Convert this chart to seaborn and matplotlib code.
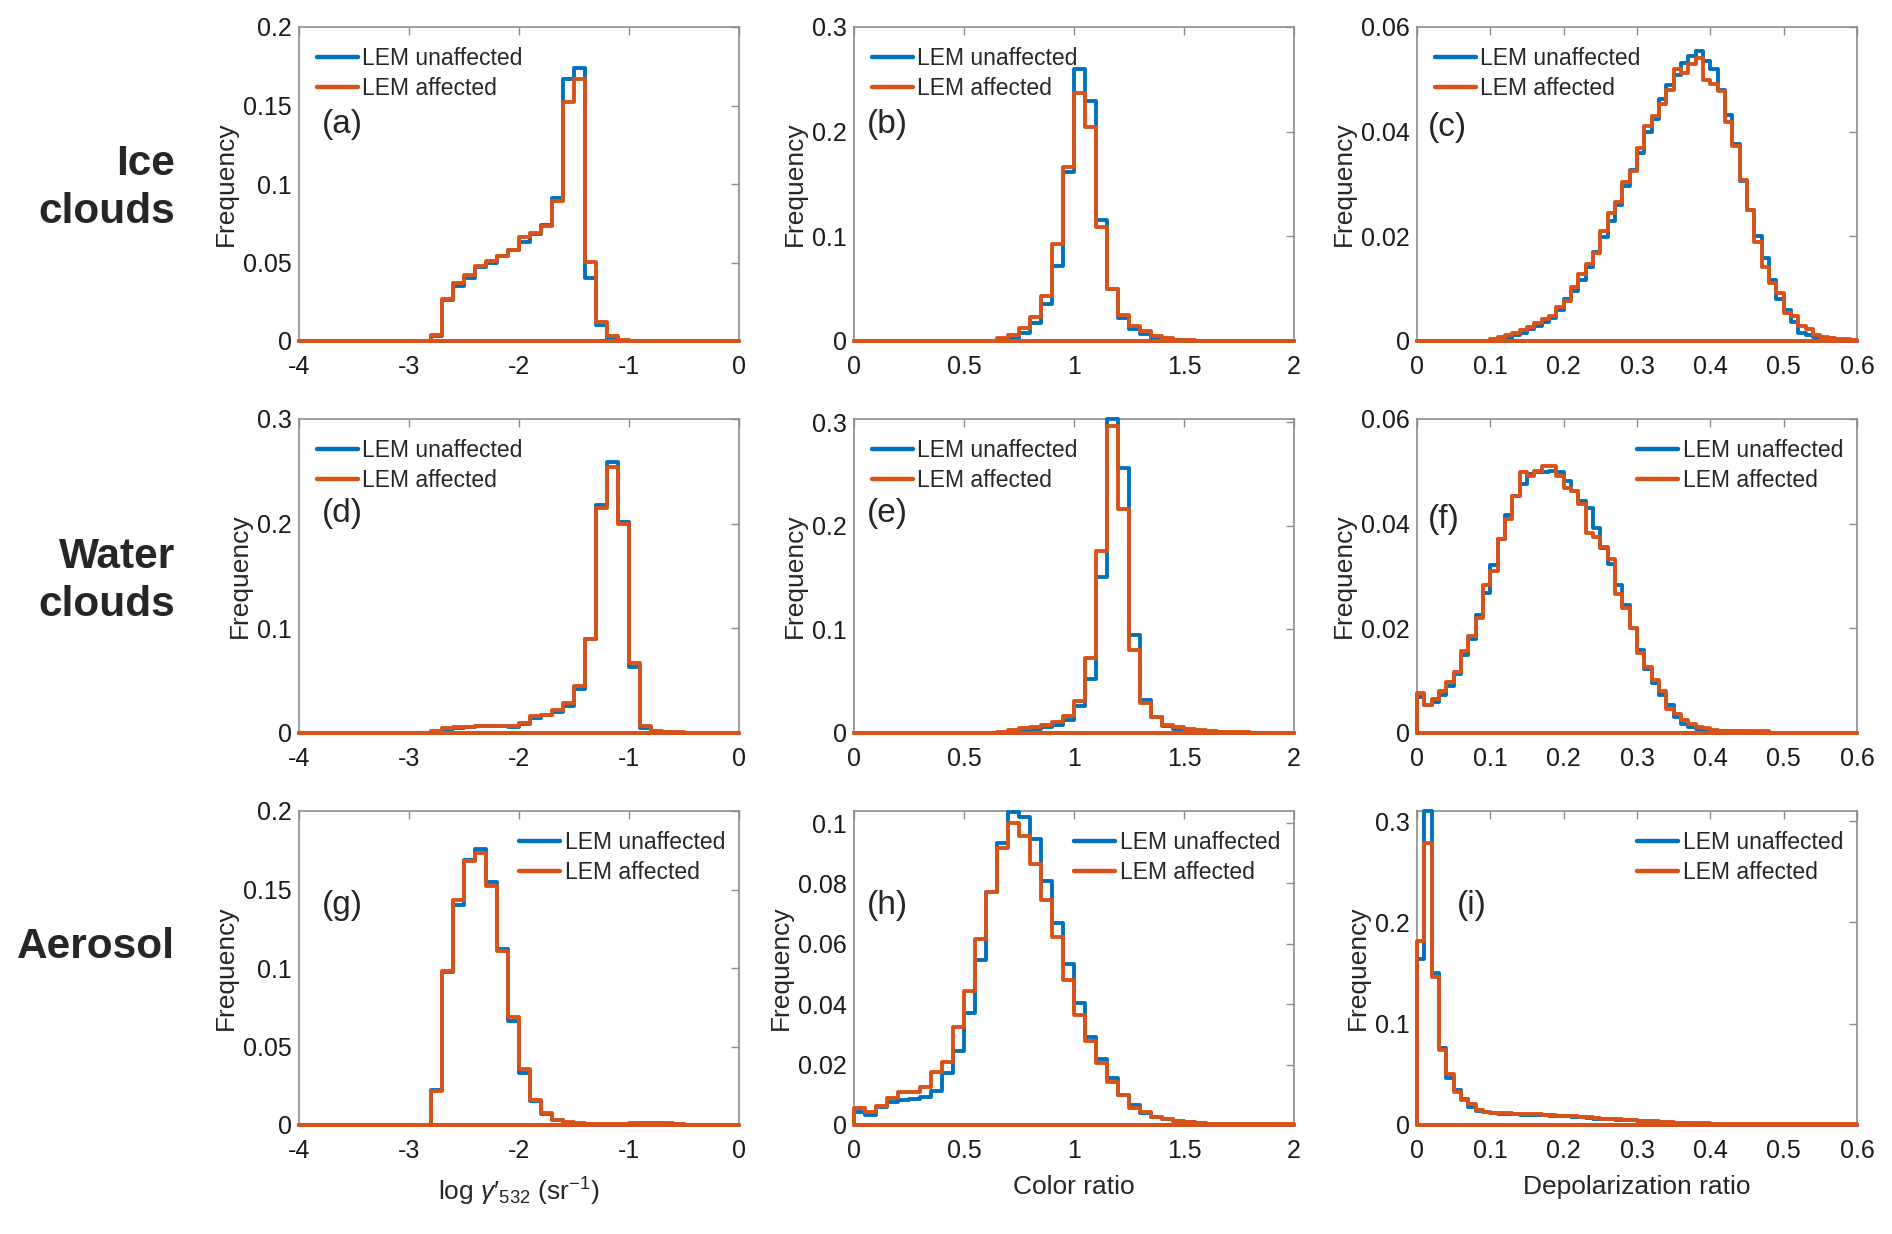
import numpy as np
import matplotlib
matplotlib.use("Agg")
import matplotlib.pyplot as plt
from matplotlib.lines import Line2D
from matplotlib.ticker import FuncFormatter
import seaborn as sns

# ---------------------------------------------------------------
# data: frequency per bin
# each series starts at <panel>_start and uses bins of <panel>_width
# bins outside the listed range are empty
# ---------------------------------------------------------------
series_names = ["LEM unaffected", "LEM affected"]
row_names = ["Ice\nclouds", "Water\nclouds", "Aerosol"]
panel_tags = ["(a)", "(b)", "(c)", "(d)", "(e)", "(f)", "(g)", "(h)", "(i)"]

# (a) ice clouds, log gamma'532
a_start, a_width = -2.8, 0.1
a_unaffected = [0.003, 0.026, 0.035, 0.040, 0.047, 0.050, 0.054, 0.058, 0.063, 0.068,
                0.074, 0.091, 0.167, 0.174, 0.040, 0.010, 0.001, 0.0003, 0.0002, 0.0001]
a_affected = [0.004, 0.027, 0.037, 0.042, 0.048, 0.051, 0.054, 0.058, 0.066, 0.069,
              0.073, 0.089, 0.152, 0.167, 0.050, 0.012, 0.003, 0.0005, 0.0002, 0.0001]

# (b) ice clouds, color ratio
b_start, b_width = 0.65, 0.05
b_unaffected = [0.0006, 0.0016, 0.0074, 0.0176, 0.035, 0.072, 0.1615, 0.260, 0.229, 0.116,
                0.050, 0.022, 0.011, 0.007, 0.0026, 0.0016, 0.0006, 0.0003, 0.0002, 0.0001]
b_affected = [0.0026, 0.0058, 0.012, 0.023, 0.043, 0.093, 0.166, 0.237, 0.204, 0.109,
              0.050, 0.025, 0.0144, 0.0096, 0.0048, 0.003, 0.001, 0.0005, 0.0002, 0.0002]

# (c) ice clouds, depolarization ratio
c_start, c_width = 0.10, 0.01
c_unaffected = [0.0, 0.0001, 0.0006, 0.0011, 0.0016, 0.0022, 0.0028, 0.0037, 0.0044, 0.0060,
                0.0081, 0.0096, 0.0117, 0.0141, 0.0170, 0.0199, 0.0229, 0.0260, 0.0296, 0.0327,
                0.0360, 0.0400, 0.0424, 0.0462, 0.0490, 0.0508, 0.0531, 0.0545, 0.0555, 0.0535,
                0.0520, 0.0479, 0.0431, 0.0376, 0.0306, 0.0251, 0.0200, 0.0158, 0.0117, 0.0081,
                0.0059, 0.0037, 0.0016, 0.0012, 0.0008, 0.0003, 0.0001, 0.0, 0.0, 0.0]
c_affected = [0.0003, 0.0008, 0.0012, 0.0016, 0.0021, 0.0027, 0.0035, 0.0042, 0.0048, 0.0065,
              0.0076, 0.0104, 0.0128, 0.0147, 0.0168, 0.0210, 0.0244, 0.0266, 0.0304, 0.0325,
              0.0368, 0.0410, 0.0430, 0.0453, 0.0479, 0.0519, 0.0513, 0.0530, 0.0540, 0.0498,
              0.0492, 0.0478, 0.0419, 0.0373, 0.0308, 0.0251, 0.0190, 0.0141, 0.0110, 0.0092,
              0.0053, 0.0048, 0.0028, 0.0022, 0.0011, 0.0008, 0.0006, 0.0004, 0.0003, 0.0001]

# (d) water clouds, log gamma'532
d_start, d_width = -2.8, 0.1
d_unaffected = [0.0010, 0.0040, 0.0050, 0.0060, 0.0064, 0.0067, 0.0064, 0.0060, 0.0088, 0.0147,
                0.0172, 0.0205, 0.0262, 0.0423, 0.0894, 0.2180, 0.2590, 0.2020, 0.0631, 0.0045,
                0.0013, 0.0006, 0.0003, 0.0001]
d_affected = [0.0016, 0.0045, 0.0054, 0.0061, 0.0064, 0.0070, 0.0067, 0.0064, 0.0096, 0.0160,
              0.0176, 0.0221, 0.0285, 0.0449, 0.0897, 0.2150, 0.2540, 0.2000, 0.0673, 0.0070,
              0.0022, 0.0013, 0.0006, 0.0003]

# (e) water clouds, color ratio
e_start, e_width = 0.65, 0.05
e_unaffected = [0.0002, 0.0006, 0.0020, 0.0040, 0.0060, 0.0078, 0.0130, 0.0260, 0.0520, 0.1510,
                0.3030, 0.2560, 0.0950, 0.0320, 0.0152, 0.0070, 0.0040, 0.0020, 0.0010, 0.0005,
                0.0005, 0.0003, 0.0002, 0.0001, 0.0001, 0.0001, 0.0001]
e_affected = [0.0013, 0.0030, 0.0045, 0.0060, 0.0078, 0.0104, 0.0160, 0.0310, 0.0720, 0.1757,
              0.2960, 0.2160, 0.0800, 0.0290, 0.0152, 0.0081, 0.0055, 0.0039, 0.0030, 0.0020,
              0.0013, 0.0008, 0.0008, 0.0003, 0.0003, 0.0003, 0.0003]

# (f) water clouds, depolarization ratio
f_start, f_width = 0.0, 0.01
f_unaffected = [0.0069, 0.0053, 0.0059, 0.0073, 0.0090, 0.0112, 0.0149, 0.0179, 0.0226, 0.0267,
                0.0321, 0.0370, 0.0417, 0.0453, 0.0476, 0.0495, 0.0498, 0.0498, 0.0501, 0.0498,
                0.0481, 0.0463, 0.0444, 0.0429, 0.0392, 0.0354, 0.0322, 0.0283, 0.0244, 0.0200,
                0.0158, 0.0123, 0.0096, 0.0072, 0.0054, 0.0030, 0.0017, 0.0011, 0.0008, 0.0004,
                0.0003, 0.0003, 0.0003, 0.0003, 0.0003]
f_affected = [0.0076, 0.0053, 0.0065, 0.0081, 0.0097, 0.0117, 0.0156, 0.0186, 0.0219, 0.0282,
              0.0309, 0.0370, 0.0408, 0.0453, 0.0498, 0.0492, 0.0500, 0.0511, 0.0511, 0.0492,
              0.0469, 0.0463, 0.0438, 0.0383, 0.0374, 0.0355, 0.0333, 0.0265, 0.0238, 0.0200,
              0.0152, 0.0126, 0.0102, 0.0081, 0.0046, 0.0037, 0.0024, 0.0017, 0.0012, 0.0009,
              0.0006, 0.0004, 0.0004, 0.0004, 0.0003, 0.0003, 0.0003, 0.0003]

# (g) aerosol, log gamma'532
g_start, g_width = -2.8, 0.1
g_unaffected = [0.0224, 0.0972, 0.1400, 0.1690, 0.1760, 0.1550, 0.1120, 0.0660, 0.0330, 0.0150,
                0.0070, 0.0032, 0.0010, 0.0006, 0.0003, 0.0003, 0.0003, 0.0003, 0.0008, 0.0010,
                0.0010, 0.0008, 0.0005, 0.0002, 0.0002, 0.0001, 0.0001, 0.0001]
g_affected = [0.0214, 0.0983, 0.1430, 0.1680, 0.1730, 0.1520, 0.1110, 0.0690, 0.0357, 0.0160,
              0.0075, 0.0032, 0.0021, 0.0010, 0.0004, 0.0004, 0.0004, 0.0004, 0.0010, 0.0012,
              0.0012, 0.0010, 0.0006, 0.0003, 0.0003, 0.0002, 0.0002, 0.0002]

# (h) aerosol, color ratio
h_start, h_width = 0.0, 0.05
h_unaffected = [0.0044, 0.0033, 0.0061, 0.0077, 0.0083, 0.0087, 0.0094, 0.0114, 0.0172, 0.0246,
                0.0371, 0.0548, 0.0771, 0.0935, 0.1037, 0.1020, 0.0946, 0.0808, 0.0670, 0.0533,
                0.0404, 0.0293, 0.0219, 0.0155, 0.0100, 0.0066, 0.0041, 0.0025, 0.0019, 0.0014,
                0.0011, 0.0008, 0.0004, 0.0003, 0.0003, 0.0003, 0.0002, 0.0002, 0.0001, 0.0001]
h_affected = [0.0055, 0.0044, 0.0063, 0.0091, 0.0108, 0.0108, 0.0127, 0.0174, 0.0210, 0.0324,
              0.0443, 0.0616, 0.0771, 0.0918, 0.1000, 0.0957, 0.0863, 0.0744, 0.0622, 0.0481,
              0.0365, 0.0277, 0.0205, 0.0144, 0.0100, 0.0055, 0.0044, 0.0025, 0.0020, 0.0014,
              0.0010, 0.0006, 0.0004, 0.0004, 0.0003, 0.0003, 0.0003, 0.0003, 0.0002, 0.0002]

# (i) aerosol, depolarization ratio
i_start, i_width = 0.0, 0.01
i_unaffected = [0.1635, 0.3100, 0.1500, 0.0763, 0.0464, 0.0348, 0.0255, 0.0182, 0.0143, 0.0133,
                0.0120, 0.0113, 0.0110, 0.0105, 0.0102, 0.0100, 0.0098, 0.0096, 0.0093, 0.0090,
                0.0086, 0.0083, 0.0080, 0.0066, 0.0063, 0.0060, 0.0057, 0.0054, 0.0050, 0.0046,
                0.0042, 0.0038, 0.0034, 0.0027, 0.0023, 0.0020, 0.0015, 0.0012, 0.0010, 0.0008,
                0.0007, 0.0004, 0.0004, 0.0004, 0.0004, 0.0004, 0.0004, 0.0004, 0.0004, 0.0004]
i_affected = [0.182, 0.278, 0.146, 0.074, 0.050, 0.0325, 0.0242, 0.0206, 0.0149, 0.0126,
              0.0123, 0.0118, 0.0116, 0.0113, 0.0110, 0.0108, 0.0105, 0.0100, 0.0096, 0.0093,
              0.0090, 0.0086, 0.0082, 0.0076, 0.0066, 0.0063, 0.0060, 0.0056, 0.0053, 0.0050,
              0.0043, 0.0040, 0.0037, 0.0033, 0.0027, 0.0023, 0.0020, 0.0018, 0.0017, 0.0015,
              0.0013, 0.0012, 0.0010, 0.0009, 0.0007, 0.0007, 0.0007, 0.0006, 0.0006, 0.0006,
              0.0005, 0.0005, 0.0005, 0.0005, 0.0005, 0.0005, 0.0005, 0.0005, 0.0005, 0.0005]

gamma_ticks = [-4, -3, -2, -1, 0]
color_ticks = [0, 0.5, 1, 1.5, 2]
depol_ticks = [0, 0.1, 0.2, 0.3, 0.4, 0.5, 0.6]

# ---------------------------------------------------------------
# style
# ---------------------------------------------------------------
sns.set_style("white")
plt.rcParams["font.family"] = ["Liberation Sans", "DejaVu Sans"]
plt.rcParams["mathtext.fontset"] = "custom"
plt.rcParams["mathtext.rm"] = "Liberation Sans"
plt.rcParams["mathtext.it"] = "Liberation Sans:italic"
plt.rcParams["mathtext.bf"] = "Liberation Sans:bold"

colors = {"LEM unaffected": "#0072BD", "LEM affected": "#D95319"}
axis_gray = "#8c8c8c"
lw = 2.8

W, H = 1892, 1234
col_left = [299, 854, 1417]
row_top = [27, 419, 811]
ax_w, ax_h = 440, 314

panels = [
    # start, width, unaffected, affected, xlim, xticks, ylim, yticks, legend side, tag position
    (a_start, a_width, a_unaffected, a_affected, (-4, 0), gamma_ticks, 0.2, [0, 0.05, 0.1, 0.15, 0.2], "left", (0.052, 0.69)),
    (b_start, b_width, b_unaffected, b_affected, (0, 2), color_ticks, 0.3, [0, 0.1, 0.2, 0.3], "left", (0.03, 0.69)),
    (c_start, c_width, c_unaffected, c_affected, (0, 0.6), depol_ticks, 0.06, [0, 0.02, 0.04, 0.06], "left", (0.025, 0.68)),
    (d_start, d_width, d_unaffected, d_affected, (-4, 0), gamma_ticks, 0.3, [0, 0.1, 0.2, 0.3], "left", (0.052, 0.70)),
    (e_start, e_width, e_unaffected, e_affected, (0, 2), color_ticks, 0.303, [0, 0.1, 0.2, 0.3], "left", (0.03, 0.70)),
    (f_start, f_width, f_unaffected, f_affected, (0, 0.6), depol_ticks, 0.06, [0, 0.02, 0.04, 0.06], "right", (0.025, 0.68)),
    (g_start, g_width, g_unaffected, g_affected, (-4, 0), gamma_ticks, 0.2, [0, 0.05, 0.1, 0.15, 0.2], "right", (0.052, 0.70)),
    (h_start, h_width, h_unaffected, h_affected, (0, 2), color_ticks, 0.104, [0, 0.02, 0.04, 0.06, 0.08, 0.1], "right", (0.03, 0.70)),
    (i_start, i_width, i_unaffected, i_affected, (0, 0.6), depol_ticks, 0.31, [0, 0.1, 0.2, 0.3], "right", (0.09, 0.70)),
]

xlabels = ["log $\\gamma$\u2032$_{532}$ (sr$^{-1}$)", "Color ratio", "Depolarization ratio"]

fig = plt.figure(figsize=(W / 100, H / 100), dpi=100)
fmt = FuncFormatter(lambda v, p: f"{v:g}")

for k, (start, width, unaff, aff, xlim, xticks, ytop, yticks, leg_side, tag_pos) in enumerate(panels):
    row, col = divmod(k, 3)
    ax = fig.add_axes([col_left[col] / W, 1 - (row_top[row] + ax_h) / H, ax_w / W, ax_h / H])

    n_bins = int(round((xlim[1] - xlim[0]) / width))
    edges = np.linspace(xlim[0], xlim[1], n_bins + 1).tolist()
    for name, vals in zip(series_names, [unaff, aff]):
        centers = start + width * (np.arange(len(vals)) + 0.5)
        sns.histplot(x=centers, weights=vals, bins=edges, element="step", fill=True,
                     color=colors[name], facecolor="none", edgecolor=colors[name],
                     linewidth=lw, clip_on=False, zorder=3, ax=ax)

    ax.set_xlim(*xlim)
    ax.set_ylim(0, ytop)
    ax.set_xticks(xticks)
    ax.set_yticks(yticks)
    ax.xaxis.set_major_formatter(fmt)
    ax.yaxis.set_major_formatter(fmt)
    ax.tick_params(direction="in", top=True, right=True, length=6, width=1,
                   color=axis_gray, labelsize=18, labelcolor="#1a1a1a")
    ax.tick_params(axis="x", pad=10)
    ax.tick_params(axis="y", pad=5)
    for sp in ax.spines.values():
        sp.set_color(axis_gray)
        sp.set_linewidth(1.2)

    ax.set_ylabel("Frequency", fontsize=19, labelpad=4)
    if row == 2:
        ax.set_xlabel(xlabels[col], fontsize=19, labelpad=9)
    else:
        ax.set_xlabel("")

    handles = [Line2D([], [], color=colors[n], linewidth=lw + 0.4) for n in series_names]
    if leg_side == "left":
        ax.legend(handles, series_names, loc="upper left", bbox_to_anchor=(0.04, 0.935),
                  frameon=False, fontsize=16.5, handlelength=1.8, handletextpad=0.2,
                  labelspacing=0.28, borderpad=0, borderaxespad=0)
    else:
        ax.legend(handles, series_names, loc="upper right", bbox_to_anchor=(0.968, 0.935),
                  frameon=False, fontsize=16.5, handlelength=1.8, handletextpad=0.2,
                  labelspacing=0.28, borderpad=0, borderaxespad=0)

    ax.text(tag_pos[0], tag_pos[1], panel_tags[k], transform=ax.transAxes,
            fontsize=24, ha="left", va="center")

# row titles on the left
row_centers = [188, 581, 947]
for name, yc in zip(row_names, row_centers):
    fig.text(175 / W, 1 - yc / H, name, fontsize=30.5, fontweight="bold",
             ha="right", va="center", multialignment="right", linespacing=1.28)

fig.savefig("out.png", dpi=100)
